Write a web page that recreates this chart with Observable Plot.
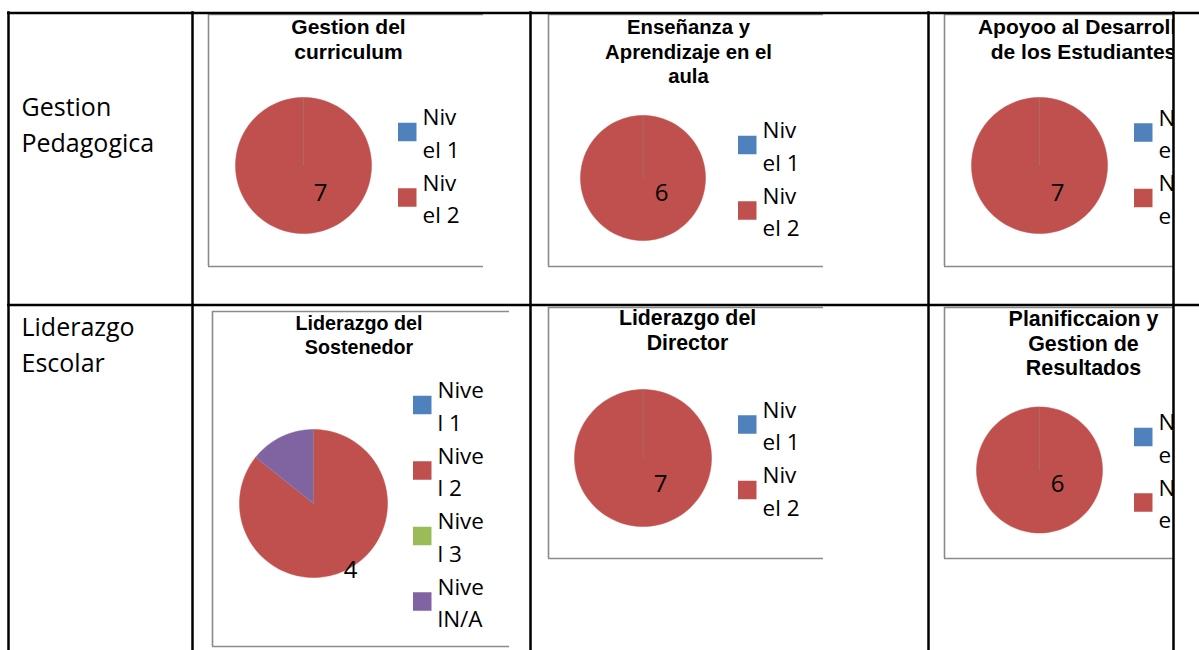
<!DOCTYPE html>
<html><head><meta charset="utf-8">
<script src="https://cdn.jsdelivr.net/npm/d3@7"></script>
<script src="https://cdn.jsdelivr.net/npm/@observablehq/plot@0.6"></script>
<style>html,body{margin:0;padding:0;background:#fff;overflow:hidden}</style>
</head><body><div id="chart"></div>
<script>
// ---------- data ----------
const rowLabels = ["Gestion\nPedagogica", "Liderazgo\nEscolar"];
const chartTitles = [
  "Gestion del\ncurriculum",
  "Enseñanza y\nAprendizaje en el\naula",
  "Apoyoo al Desarrollo\nde los Estudiantes",
  "Liderazgo del\nSostenedor",
  "Liderazgo del\nDirector",
  "Planificcaion y\nGestion de\nResultados"
];
const levels = ["Nivel 1", "Nivel 2", "Nivel 3", "NivelN/A"];
const levelColors = ["#4F81BD", "#C0504D", "#9BBB59", "#8064A2"];
const curriculum = [0, 7];
const ensenanza = [0, 6];
const apoyo = [0, 7];
const sostenedor = [0, 6, 0, 1];
const director = [0, 7];
const planificacion = [0, 6];
const seriesValues = [curriculum, ensenanza, apoyo, sostenedor, director, planificacion];
const dataLabels = ["7", "6", "7", "4", "7", "6"];

// ---------- layout ----------
const W = 1199, H = 650, clipX = 1173;
const frames = [[208,14,483,266],[548,14,823,266],[944,14,1219,266],[212,311,509,646],[548,307,823,558],[944,307,1219,558]];
const pies = [[303,165,68],[642.5,177.5,62.5],[1039,165,68],[313,503,74],[642.5,457.5,68.5],[1039,469.5,63]];
const labelPos = [[320,193],[661,193],[1057,193],[350,570],[660,484],[1057,484]];
const titlePos = [[348,27],[688,27],[1083,27],[358.5,323],[687,318],[1083,319]];
const titleSize = [21, 20.3, 21, 19.7, 21.3, 21.4];
const legendPos = [[398,132],[738,145],[1134,132.5],[413,405],[738,424.5],[1134,437]];
const legendWrap = [3,3,3,4,3,3];
const rowPos = [[21,107],[21,327]];
const titleGap = 24.5, legendStep = 65.5, sq = 18.5;

// ---------- derived ----------
const slicePts = [], zeroPts = [], labels = [], titleLines = [], legRects = [], legText = [], rowText = [];
seriesValues.forEach((vals, i) => {
  const [cx, cy, r] = pies[i];
  const arcs = d3.pie().sort(null).value(d => d)(vals);
  arcs.forEach((a, j) => {
    const key = i + "-" + j;
    if (a.data > 0) {
      slicePts.push({x: cx, y: cy, key, color: levelColors[j]});
      const n = 120;
      for (let k = 0; k <= n; k++) {
        const t = a.startAngle + (a.endAngle - a.startAngle) * k / n;
        slicePts.push({x: cx + r * Math.sin(t), y: cy - r * Math.cos(t), key, color: levelColors[j]});
      }
    } else {
      zeroPts.push({x: cx, y: cy, key});
      zeroPts.push({x: cx + r * Math.sin(a.startAngle), y: cy - r * Math.cos(a.startAngle), key});
    }
  });
  labels.push({x: labelPos[i][0], y: labelPos[i][1], text: dataLabels[i]});
  chartTitles[i].split("\n").forEach((t, k) => titleLines.push({x: titlePos[i][0], y: titlePos[i][1] + k * titleGap, text: t, size: titleSize[i]}));
  vals.forEach((v, j) => {
    const [lx, ly0] = legendPos[i];
    const cyL = ly0 + j * legendStep;
    legRects.push({x1: lx, x2: lx + sq, y1: cyL - sq / 2, y2: cyL + sq / 2, color: levelColors[j]});
    const name = levels[j], w = legendWrap[i];
    legText.push({x: lx + 24, y: cyL - 14.5, text: name.slice(0, w)});
    legText.push({x: lx + 24, y: cyL + 18, text: name.slice(w)});
  });
});
rowLabels.forEach((s, i) => s.split("\n").forEach((t, k) => rowText.push({x: rowPos[i][0], y: rowPos[i][1] + k * 36, text: t})));

const framesH = [], framesV = [];
frames.forEach(([x0, y0, x1, y1]) => {
  framesH.push({x1: x0, x2: x1, y: y0});
  framesH.push({x1: x0, x2: x1, y: y1});
  framesV.push({x: x0, y1: y0, y2: y1});
});
const tableH = [{y: 12.5, x1: 7, x2: 1199}, {y: 304.5, x1: 7, x2: 1199}];
const tableV = [8, 192, 530, 928, 1173].map(x => ({x, y1: 11.3, y2: 650}));

const calibri = "'Open Sans', 'Noto Sans', sans-serif";
const arialB = "'Liberation Sans', Arial, sans-serif";

const titleMarks = titleSize.map((s, i) =>
  Plot.text(titleLines.filter(d => d.size === s && titlePos[i][0] === d.x), {x: "x", y: "y", text: "text", fontSize: s, fontWeight: "bold", fontFamily: arialB, fill: "black", clip: true})
);

const chart = Plot.plot({
  width: W, height: H,
  marginLeft: 0, marginTop: 0, marginBottom: 0, marginRight: W - clipX,
  x: {domain: [0, clipX], range: [0, clipX], axis: null},
  y: {domain: [0, H], range: [0, H], axis: null},
  color: {type: "identity"},
  style: {background: "white"},
  marks: [
    Plot.ruleY(framesH, {y: "y", x1: "x1", x2: "x2", stroke: "#8a8a8a", strokeWidth: 1.6, clip: true}),
    Plot.ruleX(framesV, {x: "x", y1: "y1", y2: "y2", stroke: "#8a8a8a", strokeWidth: 1.6, clip: true}),
    Plot.line(slicePts, {x: "x", y: "y", z: "key", fill: "color", stroke: "color", strokeWidth: 0.5, clip: true}),
    Plot.line(zeroPts, {x: "x", y: "y", z: "key", stroke: "#9a8080", strokeWidth: 0.8, strokeOpacity: 0.7, clip: true}),
    Plot.text(labels, {x: "x", y: "y", text: "text", fontSize: 24, fontFamily: calibri, fill: "black", clip: true}),
    ...titleMarks,
    Plot.rect(legRects, {x1: "x1", x2: "x2", y1: "y1", y2: "y2", fill: "color", clip: true}),
    Plot.text(legText, {x: "x", y: "y", text: "text", textAnchor: "start", fontSize: 22.5, fontFamily: calibri, fill: "black", clip: true}),
    Plot.text(rowText, {x: "x", y: "y", text: "text", textAnchor: "start", fontSize: 25, fontFamily: calibri, fill: "black"}),
    Plot.ruleY(tableH, {y: "y", x1: "x1", x2: "x2", stroke: "black", strokeWidth: 2.5}),
    Plot.ruleX(tableV, {x: "x", y1: "y1", y2: "y2", stroke: "black", strokeWidth: 2.5})
  ]
});
document.getElementById("chart").appendChild(chart);
</script>
</body></html>
